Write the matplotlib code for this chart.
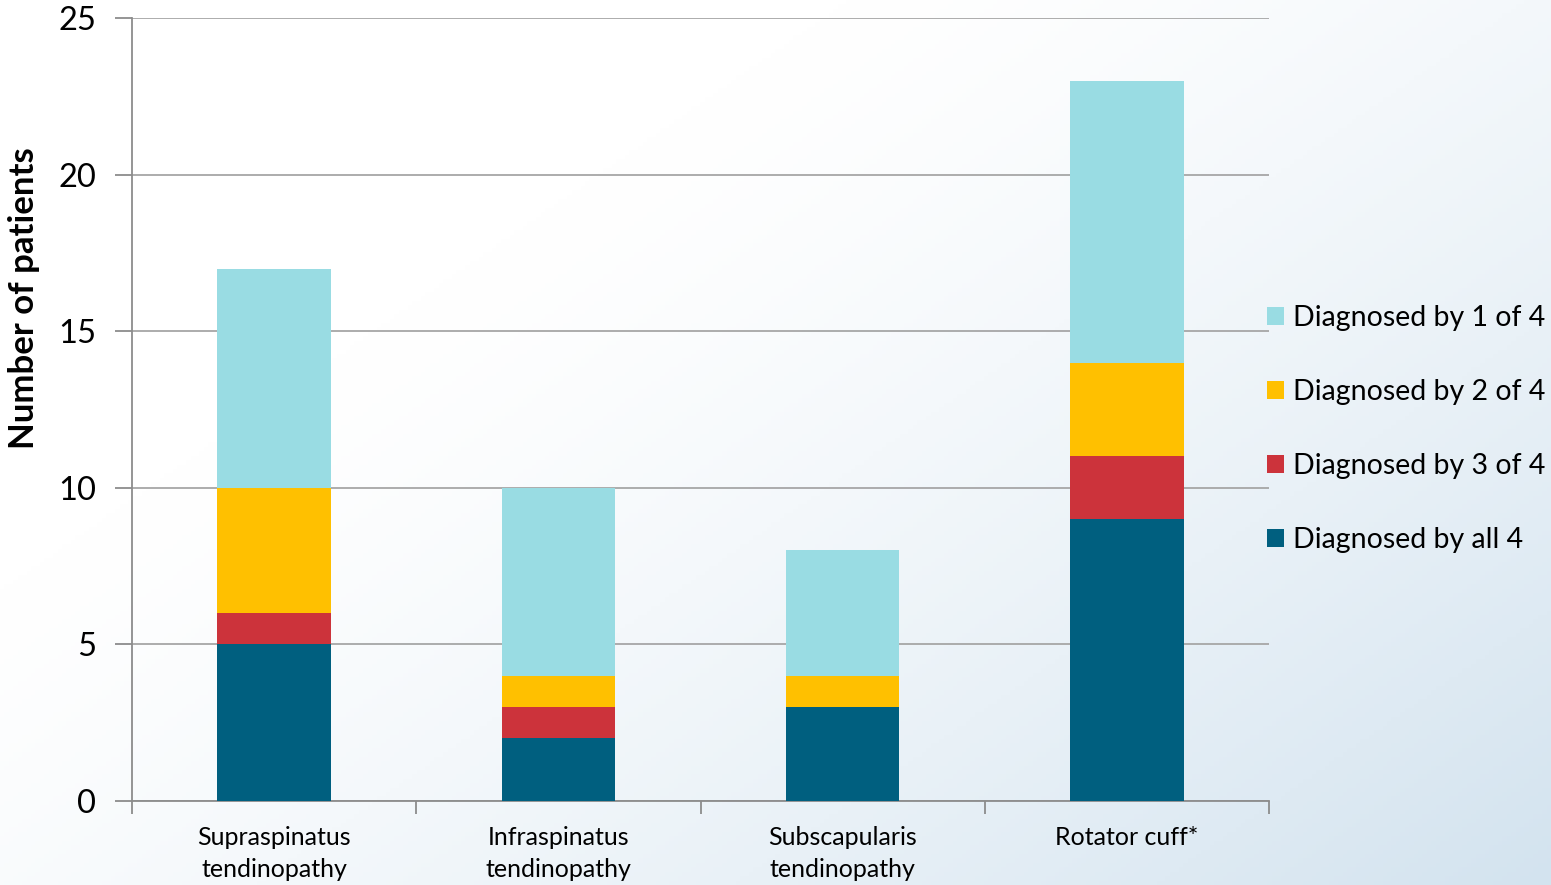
import numpy as np
import matplotlib.pyplot as plt

plt.rcParams['font.family'] = ['Lato', 'DejaVu Sans']

# data
categories = ['Supraspinatus\ntendinopathy', 'Infraspinatus\ntendinopathy',
              'Subscapularis\ntendinopathy', 'Rotator cuff*']
by_all4 = [5, 2, 3, 9]
by_3of4 = [1, 1, 0, 2]
by_2of4 = [4, 1, 1, 3]
by_1of4 = [7, 6, 4, 9]

series = [
    ('Diagnosed by all 4', by_all4, '#005f7f'),
    ('Diagnosed by 3 of 4', by_3of4, '#cc333b'),
    ('Diagnosed by 2 of 4', by_2of4, '#ffc000'),
    ('Diagnosed by 1 of 4', by_1of4, '#99dce3'),
]

fig = plt.figure(figsize=(15.51, 8.85), dpi=100)

# background gradient, white top-left to pale blue bottom-right
bg = fig.add_axes([0, 0, 1, 1], zorder=-10)
h, w = 200, 350
yy, xx = np.mgrid[0:h, 0:w]
u = 0.55 * xx / (w - 1) + 0.45 * yy / (h - 1)
t = np.clip((u - 0.3) / 0.7, 0, 1) ** 1.3
c0 = np.array([255, 255, 255]) / 255
c1 = np.array([211, 227, 239]) / 255
img = c0[None, None, :] * (1 - t[..., None]) + c1[None, None, :] * t[..., None]
bg.imshow(img, aspect='auto', extent=[0, 1, 0, 1], origin='upper')
bg.axis('off')

ax = fig.add_axes([132 / 1551, 1 - 801 / 885, (1269 - 132) / 1551, (801 - 18) / 885])
ax.patch.set_alpha(0)

x = np.arange(len(categories))
bottom = np.zeros(len(categories))
handles = {}
for name, vals, col in series:
    b = ax.bar(x, vals, 0.4, bottom=bottom, color=col, label=name, zorder=3)
    handles[name] = b
    bottom += np.array(vals)

ax.set_xlim(-0.5, 3.5)
ax.set_ylim(0, 25)
ax.set_yticks([0, 5, 10, 15, 20, 25])
ax.yaxis.grid(True, color='#a6a6a6', linewidth=1.3, zorder=0)
ax.set_axisbelow(True)

for s in ['top', 'right']:
    ax.spines[s].set_visible(False)
for s in ['left', 'bottom']:
    ax.spines[s].set_color('#8c8c8c')
    ax.spines[s].set_linewidth(1.3)

ax.set_xticks(np.arange(-0.5, 4, 1))
ax.set_xticklabels([])
ax.set_xticks(x, minor=True)
ax.set_xticklabels(categories, minor=True, fontsize=18, linespacing=1.45)
ax.tick_params(axis='x', which='major', direction='out', length=9, width=1.3, color='#8c8c8c')
ax.tick_params(axis='x', which='minor', length=0, pad=18)
ax.tick_params(axis='y', direction='out', length=12, width=1.3, color='#8c8c8c',
               labelsize=23.5, pad=14)

ax.set_ylabel('Number of patients', fontsize=25, fontweight='bold')
ax.yaxis.set_label_coords(-0.081, 0.642)

order = ['Diagnosed by 1 of 4', 'Diagnosed by 2 of 4', 'Diagnosed by 3 of 4', 'Diagnosed by all 4']
fig.legend([handles[n] for n in order], order, loc='center left',
           bbox_to_anchor=(1241 / 1551, 1 - 429 / 885), frameon=False, fontsize=20.5,
           handlelength=0.6, handleheight=0.6, handletextpad=0.32, labelspacing=1.68)

fig.savefig('out.png', dpi=100)
